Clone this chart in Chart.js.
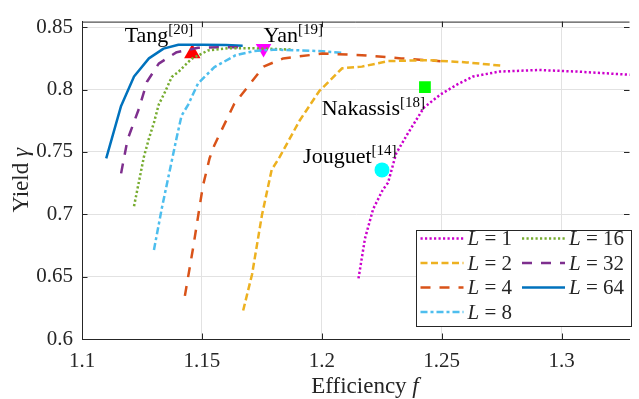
<!DOCTYPE html>
<html>
<head>
<meta charset="utf-8">
<script src="https://cdn.jsdelivr.net/npm/chart.js@4.4.1/dist/chart.umd.min.js"></script>
<style>
  html, body { margin: 0; padding: 0; background: #fff; }
  #wrap { width: 639px; height: 399px; }
</style>
</head>
<body>
<div id="wrap"><canvas id="yieldChart" width="639" height="399"></canvas></div>
<script>
// tick labels
const xTicks = [1.1, 1.15, 1.2, 1.25, 1.3];
const yTicks = [0.6, 0.65, 0.7, 0.75, 0.8, 0.85];

// curves
const L1_x = [1.2153, 1.2180, 1.2214, 1.2255, 1.2276, 1.2310, 1.2358, 1.2426, 1.2495, 1.2563, 1.2631, 1.2740, 1.2904, 1.3068, 1.3290];
const L1_y = [0.6486, 0.6806, 0.7042, 0.7199, 0.7252, 0.7488, 0.7646, 0.7856, 0.7961, 0.8039, 0.8105, 0.8144, 0.8157, 0.8144, 0.8118];

const L2_x = [1.1672, 1.1709, 1.1750, 1.1791, 1.1825, 1.1907, 1.1989, 1.2085, 1.2167, 1.2276, 1.2440, 1.2604, 1.2750];
const L2_y = [0.6228, 0.6517, 0.6990, 0.7357, 0.7462, 0.7750, 0.7987, 0.8171, 0.8184, 0.8228, 0.8236, 0.8218, 0.8191];

const L4_x = [1.1429, 1.1463, 1.1504, 1.1532, 1.1552, 1.1634, 1.1757, 1.1839, 1.2003, 1.2167, 1.2331, 1.2495];
const L4_y = [0.6346, 0.6727, 0.7226, 0.7449, 0.7554, 0.7882, 0.8184, 0.8250, 0.8289, 0.8276, 0.8250, 0.8228];

const L8_x = [1.1300, 1.1333, 1.1368, 1.1395, 1.1415, 1.1443, 1.1484, 1.1552, 1.1641, 1.1716, 1.1798, 1.1907, 1.2003, 1.2085];
const L8_y = [0.6714, 0.7050, 0.7370, 0.7617, 0.7790, 0.7880, 0.8050, 0.8180, 0.8276, 0.8308, 0.8320, 0.8315, 0.8307, 0.8295];

const L16_x = [1.1217, 1.1258, 1.1278, 1.1300, 1.1320, 1.1347, 1.1374, 1.1402, 1.1457, 1.1525, 1.1607, 1.1716, 1.1880];
const L16_y = [0.7065, 0.7460, 0.7600, 0.7735, 0.7880, 0.7984, 0.8100, 0.8142, 0.8247, 0.8313, 0.8331, 0.8331, 0.8320];

const L32_x = [1.1163, 1.1190, 1.1238, 1.1271, 1.1320, 1.1395, 1.1484, 1.1600, 1.1680];
const L32_y = [0.7328, 0.7600, 0.7850, 0.8063, 0.8208, 0.8300, 0.8335, 0.8340, 0.8338];

const L64_x = [1.1101, 1.1163, 1.1217, 1.1279, 1.1340, 1.1402, 1.1500, 1.1600, 1.1670];
const L64_y = [0.7449, 0.7869, 0.8105, 0.8250, 0.8328, 0.8360, 0.8360, 0.8357, 0.8352];

// reference designs
const refNames = ['Tang', 'Yan', 'Nakassis', 'Jouguet'];
const refCites = ['[20]', '[19]', '[18]', '[14]'];
const refX = [1.1460, 1.1757, 1.2430, 1.2251];
const refY = [0.8290, 0.8330, 0.8019, 0.7356];

const seriesLabels = ['1', '2', '4', '8', '16', '32', '64'];

const SERIF = "'Liberation Serif', 'Times New Roman', serif";
const INK = '#262626';

const toPts = (xs, ys) => xs.map((x, i) => ({ x: x, y: ys[i] }));

function curve(label, xs, ys, color, dash, width) {
    return {
        label: label,
        data: toPts(xs, ys),
        showLine: true,
        borderColor: color,
        backgroundColor: color,
        borderWidth: width || 2.5,
        borderDash: dash,
        borderCapStyle: 'butt',
        borderJoinStyle: 'round',
        pointRadius: 0,
        tension: 0,
        isCurve: true
    };
}

function marker(i, style, color, radius, rotation) {
    return {
        label: refNames[i],
        data: [{ x: refX[i], y: refY[i] }],
        pointStyle: style,
        pointRadius: radius,
        pointRotation: rotation || 0,
        pointBackgroundColor: color,
        pointBorderWidth: 0,
        borderWidth: 0,
        showLine: false,
        refIndex: i
    };
}

const datasets = [
    curve(seriesLabels[0], L1_x, L1_y, '#cc00cc', [2.2, 2.3]),
    curve(seriesLabels[1], L2_x, L2_y, '#edb120', [7, 3.5]),
    curve(seriesLabels[2], L4_x, L4_y, '#d95319', [10, 9]),
    curve(seriesLabels[3], L8_x, L8_y, '#4dbeee', [7, 3, 3, 3]),
    curve(seriesLabels[4], L16_x, L16_y, '#77ac30', [2.2, 2.3]),
    curve(seriesLabels[5], L32_x, L32_y, '#7e2f8e', [10, 9]),
    curve(seriesLabels[6], L64_x, L64_y, '#0072bd', [], 2.5),
    marker(0, 'triangle', '#ff0000', 9.5, 0),
    marker(1, 'triangle', '#ff00ff', 9, 180),
    marker(2, 'rect', '#00ff00', 8.3, 0),
    marker(3, 'circle', '#00ffff', 7.5, 0)
];

// text with an italic part
function drawMixed(ctx, parts, x, y, size) {
    let cx = x;
    parts.forEach(p => {
        ctx.font = (p.italic ? 'italic ' : '') + size + 'px ' + SERIF;
        ctx.fillText(p.text, cx, y);
        cx += ctx.measureText(p.text).width;
    });
    return cx;
}
function mixedWidth(ctx, parts, size) {
    let w = 0;
    parts.forEach(p => {
        ctx.font = (p.italic ? 'italic ' : '') + size + 'px ' + SERIF;
        w += ctx.measureText(p.text).width;
    });
    return w;
}

const decorPlugin = {
    id: 'decor',
    afterDraw(chart) {
        const ctx = chart.ctx;
        const area = chart.chartArea;
        const xs = chart.scales.x, ys = chart.scales.y;
        ctx.save();

        // top box line and inward ticks
        ctx.strokeStyle = INK;
        ctx.lineWidth = 1;
        ctx.beginPath();
        ctx.moveTo(area.left, area.top + 0.5);
        ctx.lineTo(area.right, area.top + 0.5);
        const tl = 5.5;
        xTicks.forEach(v => {
            const px = Math.round(xs.getPixelForValue(v)) + 0.5;
            ctx.moveTo(px, area.bottom); ctx.lineTo(px, area.bottom - tl);
            ctx.moveTo(px, area.top); ctx.lineTo(px, area.top + tl);
        });
        yTicks.forEach(v => {
            const py = Math.round(ys.getPixelForValue(v)) + 0.5;
            ctx.moveTo(area.left, py); ctx.lineTo(area.left + tl, py);
            ctx.moveTo(area.right, py); ctx.lineTo(area.right - tl, py);
        });
        ctx.stroke();

        // reference labels
        ctx.fillStyle = '#000';
        ctx.textBaseline = 'alphabetic';
        const offs = [
            { align: 'right', dx: 1, dy: -11 },
            { align: 'left', dx: 0, dy: -6 },
            { align: 'right', dx: 0, dy: 28 },
            { align: 'right', dx: 14.5, dy: -6.5 }
        ];
        refNames.forEach((name, i) => {
            const px = xs.getPixelForValue(refX[i]);
            const py = ys.getPixelForValue(refY[i]);
            ctx.font = '22px ' + SERIF;
            const wName = ctx.measureText(name).width;
            ctx.font = '15px ' + SERIF;
            const wCite = ctx.measureText(refCites[i]).width;
            const o = offs[i];
            const x0 = o.align === 'right' ? px + o.dx - wName - wCite : px + o.dx;
            const base = py + o.dy;
            ctx.textAlign = 'left';
            ctx.font = '22px ' + SERIF;
            ctx.fillText(name, x0, base);
            ctx.font = '15px ' + SERIF;
            ctx.fillText(refCites[i], x0 + wName, base - 8);
        });

        // axis titles
        ctx.fillStyle = INK;
        const xt = [{ text: 'Efficiency ' }, { text: 'f', italic: true }];
        const wx = mixedWidth(ctx, xt, 23);
        drawMixed(ctx, xt, 365 - wx / 2, 393, 23);
        ctx.save();
        ctx.translate(28, (area.top + area.bottom) / 2);
        ctx.rotate(-Math.PI / 2);
        const yt = [{ text: 'Yield ' }, { text: 'γ', italic: true }];
        const wy = mixedWidth(ctx, yt, 23);
        drawMixed(ctx, yt, -wy / 2, 0, 23);
        ctx.restore();

        // legend, two columns, column-major
        const bx = 416.5, by = 230.5, bw = 215, bh = 96;
        ctx.fillStyle = '#fff';
        ctx.fillRect(bx, by, bw, bh);
        ctx.strokeStyle = INK;
        ctx.lineWidth = 1;
        ctx.strokeRect(bx, by, bw, bh);
        const curves = chart.data.datasets.filter(d => d.isCurve);
        curves.forEach((ds, i) => {
            const col = i < 4 ? 0 : 1;
            const row = i < 4 ? i : i - 4;
            const sx = bx + 4 + col * 101.5;
            const sy = by + 8 + row * 24.5;
            ctx.save();
            ctx.strokeStyle = ds.borderColor;
            ctx.lineWidth = ds.borderWidth;
            ctx.lineCap = 'butt';
            ctx.setLineDash(ds.borderDash || []);
            ctx.beginPath();
            ctx.moveTo(sx, sy);
            ctx.lineTo(sx + 43, sy);
            ctx.stroke();
            ctx.restore();
            ctx.fillStyle = INK;
            ctx.textBaseline = 'middle';
            drawMixed(ctx, [{ text: 'L', italic: true }, { text: ' = ' + ds.label }], sx + 47, sy + 1, 21);
        });

        ctx.restore();
    }
};

const ctx = document.getElementById('yieldChart').getContext('2d');
new Chart(ctx, {
    type: 'scatter',
    data: { datasets: datasets },
    options: {
        responsive: false,
        animation: false,
        devicePixelRatio: 1,
        layout: { padding: { top: 16, right: 0, left: 0, bottom: 0 } },
        plugins: { legend: { display: false }, tooltip: { enabled: false } },
        scales: {
            x: {
                type: 'linear',
                min: 1.1,
                max: 1.3283,
                afterBuildTicks: s => { s.ticks = xTicks.map(v => ({ value: v })); },
                afterFit: s => { s.height = 60; },
                grid: { color: '#e2e2e2', lineWidth: 1, drawTicks: false },
                border: { display: true, color: INK, width: 1 },
                ticks: {
                    padding: 10,
                    color: INK,
                    font: { family: SERIF, size: 21 },
                    maxRotation: 0,
                    callback: v => String(v)
                }
            },
            y: {
                type: 'linear',
                min: 0.6,
                max: 0.8545,
                afterBuildTicks: s => { s.ticks = yTicks.map(v => ({ value: v })); },
                afterFit: s => { s.width = 82; },
                grid: { color: '#e2e2e2', lineWidth: 1, drawTicks: false },
                border: { display: true, color: INK, width: 1 },
                ticks: {
                    padding: 9,
                    color: INK,
                    font: { family: SERIF, size: 21 },
                    callback: v => String(v)
                }
            }
        }
    },
    plugins: [decorPlugin]
});
</script>
</body>
</html>
